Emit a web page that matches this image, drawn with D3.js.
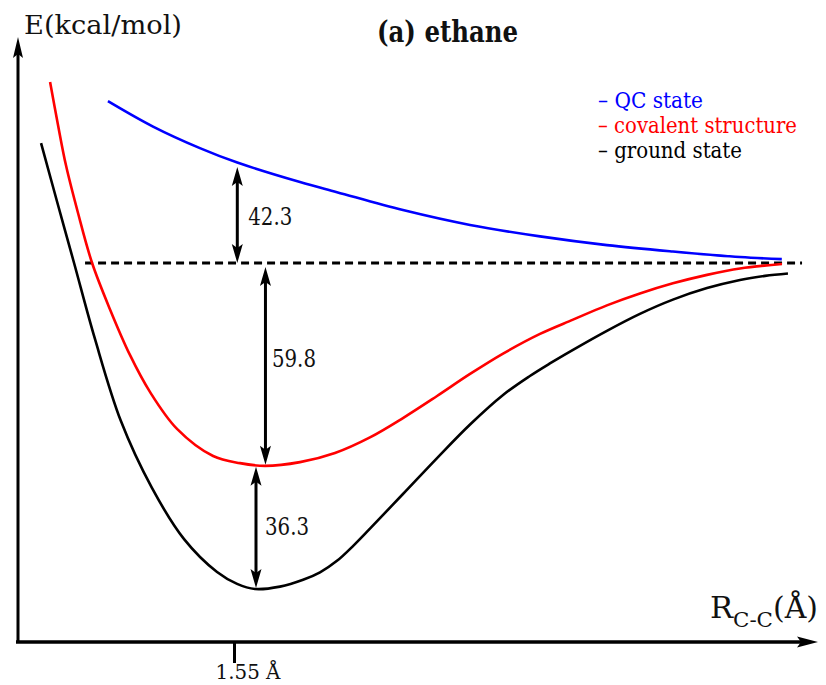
<!DOCTYPE html>
<html>
<head>
<meta charset="utf-8">
<script src="https://cdn.jsdelivr.net/npm/d3@7"></script>
<style>
  body { margin: 0; background: #fff; }
  svg { display: block; }
  svg text { font-family: "DejaVu Serif", serif; font-stretch: condensed; }
</style>
</head>
<body>
<svg id="chart" width="826" height="685"></svg>
<script>
// C–C bond length (Å) and energy (kcal/mol) relative to the dissociation limit
const qcR  = [0.977, 1.182, 1.395, 1.565, 1.85, 2.018, 2.318, 2.623, 2.941, 3.245, 3.545, 3.85, 4.04];
const qcE  = [70.6, 59.5, 50.1, 43.8, 35.3, 30.9, 23.1, 16.6, 11.6, 7.8, 5.0, 2.6, 1.7];

const covR = [0.714, 0.75, 0.786, 0.841, 0.905, 0.986, 1.077, 1.168, 1.291, 1.455, 1.577, 1.691, 1.85, 2.009,
              2.168, 2.318, 2.473, 2.623, 2.773, 2.941, 3.091, 3.245, 3.395, 3.545, 3.70, 3.85, 4.041];
const covE = [78.9, 60.2, 42.7, 21.8, 0.0, -13.6, -27.1, -38.0, -48.9, -56.9, -59.0, -59.8, -58.7, -56.0,
              -51.4, -45.7, -39.2, -32.7, -26.7, -20.9, -16.7, -12.5, -9.0, -6.0, -3.5, -1.6, -0.3];

const gsR  = [0.673, 0.75, 0.823, 0.918, 1.036, 1.177, 1.323, 1.473, 1.564, 1.645, 1.759, 1.864, 1.941, 2.018,
              2.093, 2.168, 2.318, 2.473, 2.623, 2.773, 2.895, 2.986, 3.091, 3.245, 3.395, 3.545, 3.70, 3.85,
              3.964, 4.068];
const gsE  = [52.3, 25.3, 0.0, -22.4, -46.6, -66.3, -81.4, -91.1, -94.6, -96.1, -95.4, -93.4, -91.2, -87.8,
              -83.3, -78.3, -68.1, -57.5, -47.6, -38.9, -33.3, -29.6, -25.6, -20.0, -15.0, -10.8, -7.4, -5.0,
              -3.8, -3.1];

const seriesNames  = ["QC state", "covalent structure", "ground state"];
const seriesColors = ["#0000ff", "#ff0000", "#000000"];

// dissociation limit (E = 0) drawn as a dashed reference line
const limitR = [0.873, 4.132];
const limitE = 0;

// energy gaps marked with double arrows: bond length, lower and upper energy
const gapR    = [1.565, 1.693, 1.65];
const gapLow  = [0, -59.8, -96.1];
const gapHigh = [42.3, 0, -59.8];

const tickValues = [1.55];
const tickLabels = ["1.55 Å"];

// ---- layout ----
const svg = d3.select("#chart");
const originX = 18, originY = 642;

const x = d3.scaleLinear().domain([0.6, 4.2]).range([25, 817]);
// schematic energy axis: bound and repulsive regions use separate vertical scales
const y = d3.scaleLinear().domain([-96.1, 0, 42.3]).range([589, 263, 166]);

const line = d3.line()
  .x(d => x(d[0]))
  .y(d => y(d[1]))
  .curve(d3.curveCatmullRom.alpha(0.5));

const series = [
  d3.zip(qcR, qcE),
  d3.zip(covR, covE),
  d3.zip(gsR, gsE)
];

// dashed dissociation limit
svg.append("line")
  .attr("x1", x(limitR[0])).attr("x2", x(limitR[1]))
  .attr("y1", y(limitE)).attr("y2", y(limitE))
  .attr("stroke", "#000").attr("stroke-width", 3)
  .attr("stroke-dasharray", "8,5");

// potential energy curves
svg.selectAll("path.curve")
  .data(series)
  .join("path")
  .attr("class", "curve")
  .attr("d", line)
  .attr("fill", "none")
  .attr("stroke", (d, i) => seriesColors[i])
  .attr("stroke-width", 2.6);

function head(g, tx, ty, dir, len, half) {
  // dir = -1 points up, +1 points down
  g.append("path")
    .attr("d", `M${tx},${ty} L${tx - half},${ty - dir * len} L${tx},${ty - dir * (len - 4)} L${tx + half},${ty - dir * len} Z`)
    .attr("fill", "#000");
}

// squeeze a text run to a given advance width
function fit(sel, w) {
  return sel.attr("textLength", w).attr("lengthAdjust", "spacingAndGlyphs");
}

// double arrows for the energy gaps
const gapG = svg.append("g");
const labelNudge = [[11, 10], [6.5, 1], [9, 7.5]];
gapR.forEach((r, i) => {
  const gx = x(r);
  const yTop = y(gapHigh[i]) + (i === 1 ? 4 : 1);
  const yBot = y(gapLow[i]) - (i === 0 ? 0 : 1);
  gapG.append("line")
    .attr("x1", gx).attr("x2", gx)
    .attr("y1", yTop + 10).attr("y2", yBot - 10)
    .attr("stroke", "#000").attr("stroke-width", 3);
  head(gapG, gx, yTop, -1, 19, 5.5);
  head(gapG, gx, yBot, 1, 19, 5.5);
  const gap = (gapHigh[i] - gapLow[i]).toFixed(1);
  fit(gapG.append("text")
    .attr("x", gx + labelNudge[i][0])
    .attr("y", (yTop + yBot) / 2 + labelNudge[i][1])
    .attr("font-size", 24)
    .attr("fill", "#111")
    .text(gap), 44);
});

// axes with arrowheads
const axG = svg.append("g");
axG.append("line")
  .attr("x1", originX).attr("x2", originX)
  .attr("y1", originY + 1).attr("y2", 50)
  .attr("stroke", "#000").attr("stroke-width", 3);
head(axG, originX, 37, -1, 21, 5);
axG.append("line")
  .attr("x1", 16).attr("x2", 805)
  .attr("y1", originY).attr("y2", originY)
  .attr("stroke", "#000").attr("stroke-width", 3.5);
axG.append("path")
  .attr("d", `M818,${originY} L797,${originY - 5.5} L801,${originY} L797,${originY + 5.5} Z`)
  .attr("fill", "#000");

// bond-length tick
const xAxis = d3.axisBottom(x)
  .tickValues(tickValues)
  .tickFormat((d, i) => tickLabels[i])
  .tickSize(21)
  .tickPadding(1);
const tickG = svg.append("g")
  .attr("transform", `translate(0,${originY})`)
  .call(xAxis);
tickG.attr("font-family", null).attr("font-size", null);
tickG.select(".domain").remove();
tickG.selectAll(".tick line").attr("stroke", "#000").attr("stroke-width", 3);
fit(tickG.selectAll(".tick text")
  .attr("font-size", 21)
  .attr("fill", "#111")
  .attr("dx", 13.5), 65);

// axis titles
fit(svg.append("text")
  .attr("x", 24).attr("y", 34)
  .attr("font-size", 26)
  .attr("fill", "#111")
  .text("E(kcal/mol)"), 158);

const xt = svg.append("text")
  .attr("y", 618)
  .attr("font-size", 30)
  .attr("fill", "#111");
fit(xt.append("tspan").attr("x", 710).text("R"), 23);
fit(xt.append("tspan").attr("x", 733).attr("font-size", 20).attr("dy", 9).text("C-C"), 40);
fit(xt.append("tspan").attr("x", 773).attr("dy", -9).text("(Å)"), 45);

// title
fit(svg.append("text")
  .attr("x", 377).attr("y", 42)
  .attr("font-size", 29)
  .attr("font-weight", "bold")
  .attr("fill", "#111")
  .text("(a) ethane"), 141);

// legend
const legendWidths = [105, 199, 144];
svg.append("g")
  .selectAll("text")
  .data(seriesNames)
  .join("text")
  .attr("x", 598)
  .attr("y", (d, i) => 108 + i * 25)
  .attr("font-size", 23)
  .attr("fill", (d, i) => seriesColors[i])
  .attr("textLength", (d, i) => legendWidths[i])
  .attr("lengthAdjust", "spacingAndGlyphs")
  .text(d => "– " + d);
</script>
</body>
</html>
